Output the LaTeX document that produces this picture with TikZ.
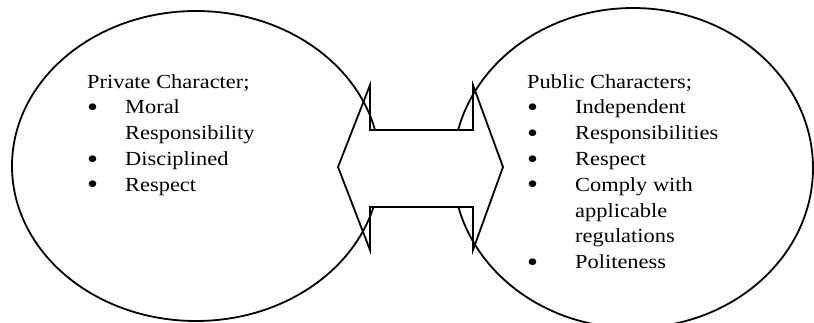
\documentclass[tikz,border=0pt]{standalone}
\usepackage{fontspec}
\usepackage{graphicx}
\setmainfont{Liberation Serif}[FakeStretch=1.12]
\usetikzlibrary{shapes.geometric}
\definecolor{LineClr}{rgb}{0,0,0}
\definecolor{FillClr}{rgb}{1,1,1}
\newcommand{\bigdot}{\raisebox{-2.6pt}[6pt][0pt]{\scalebox{1.4}{\textbullet}}}

\begin{document}
\begin{tikzpicture}[x=1pt,y=-1pt,
  bubble/.style={ellipse,draw=LineClr,line width=1.8pt,inner sep=0pt},
  listtext/.style={anchor=base west,inner sep=0pt,font=\fontsize{20}{25.8}\selectfont}]
\useasboundingbox (0,0) rectangle (814,322);

\node[bubble,minimum width=368pt,minimum height=310pt] (priv) at (196,166) {};
\node[bubble,minimum width=360pt,minimum height=320pt] (publ) at (633,168) {};

% double arrow between the two bubbles
\fill[FillClr] (370,130) rectangle (473,207);
\draw[LineClr,line width=1.8pt] (338,167) -- (370,85) -- (370,130) -- (473,130) -- (473,85)
  -- (503,167) -- (473,250) -- (473,207) -- (370,207) -- (370,250) -- cycle;

\node[listtext] (privtext) at (87,88) {%
  \begin{tabular}[t]{@{}p{38pt}@{}l@{}}
  \multicolumn{2}{@{}l@{}}{Private Character;}\\
  \bigdot & Moral\\
          & Responsibility\\
  \bigdot & Disciplined\\
  \bigdot & Respect
  \end{tabular}};

\node[listtext] (publtext) at (527,88) {%
  \begin{tabular}[t]{@{}p{48pt}@{}l@{}}
  \multicolumn{2}{@{}l@{}}{Public Characters;}\\
  \bigdot & Independent\\
  \bigdot & Responsibilities\\
  \bigdot & Respect\\
  \bigdot & Comply with\\
          & applicable\\
          & regulations\\
  \bigdot & Politeness
  \end{tabular}};

\end{tikzpicture}
\end{document}
